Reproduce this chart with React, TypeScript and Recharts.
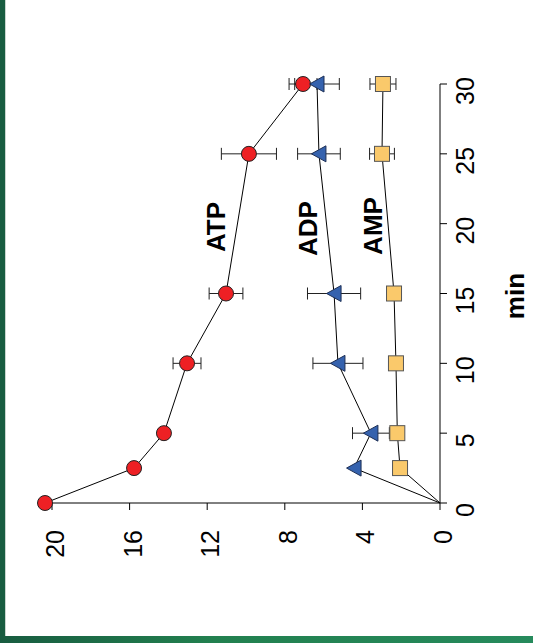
import React from 'react';
import { LineChart, Line, XAxis, YAxis, ErrorBar, ReferenceLine } from 'recharts';

// time (min) and nucleotide levels
const times = [0, 2.5, 5, 10, 15, 25, 30];
const atp = [20.36, 15.77, 14.23, 13.04, 11.03, 9.85, 7.06];
const atpErr = [0, 0, 0, 0.72, 0.87, 1.42, 0.72];
const adp = [0, 4.43, 3.56, 5.26, 5.46, 6.24, 6.34];
const adpErr = [0, 0, 0.95, 1.29, 1.37, 1.1, 1.15];
const amp = [0, 2.06, 2.2, 2.27, 2.37, 2.99, 2.94];
const ampErr = [0, 0, 0, 0, 0, 0.64, 0.67];

const timeTicks = [0, 5, 10, 15, 20, 25, 30];
const valueTicks = [0, 4, 8, 12, 16, 20];

const rows = times.map((t, i) => ({
  t,
  atp: atp[i], atpErr: atpErr[i],
  adp: adp[i], adpErr: adpErr[i],
  amp: amp[i], ampErr: ampErr[i],
}));

const tickFont = "'Liberation Sans Narrow', 'Arial Narrow', 'Liberation Sans', Arial, sans-serif";
const boldFont = "'Liberation Sans', Arial, sans-serif";

const TimeTick = (p: any) => (
  <text x={p.x - 7} y={p.y + 25} textAnchor="middle" fontSize={25} fontFamily={tickFont} fill="#000">
    {p.payload.value}
  </text>
);

const ValueTick = (p: any) => (
  <text x={p.x - 18} y={p.y + 12} textAnchor="end" fontSize={25} fontFamily={tickFont} fill="#000">
    {p.payload.value}
  </text>
);

const Circle = (p: any) => (
  <circle key={`c${p.index}`} cx={p.cx} cy={p.cy} r={7.5} fill="#ee2024" stroke="#222" strokeWidth={1} />
);

const Triangle = (p: any) => {
  if (p.payload.t === 0) return <g key={`t${p.index}`} />;
  const { cx, cy } = p;
  return (
    <polygon key={`t${p.index}`} points={`${cx},${cy - 7.5} ${cx + 8},${cy + 7} ${cx - 8},${cy + 7}`}
      fill="#3562ae" stroke="#1d2f55" strokeWidth={1} />
  );
};

const Square = (p: any) => {
  if (p.payload.t === 0) return <g key={`s${p.index}`} />;
  return (
    <rect key={`s${p.index}`} x={p.cx - 7.5} y={p.cy - 7.5} width={15} height={15}
      fill="#fac96b" stroke="#555" strokeWidth={1} />
  );
};

export default function App() {
  return (
    <div style={{ position: 'absolute', left: 0, top: 0, width: 533, height: 643, background: '#fff', overflow: 'hidden' }}>
      <div style={{ position: 'absolute', left: 0, top: 0, width: 5, height: 643, background: '#185c40', borderRight: '1px solid #c9d6cf' }} />
      <div style={{ position: 'absolute', left: 0, top: 636, width: 533, height: 7, background: 'linear-gradient(90deg, #185c40, #22804f 40%, #268a5c)' }} />
      <div style={{ position: 'absolute', left: 0, top: 0, width: 643, height: 533, transformOrigin: '0 0', transform: 'translateY(643px) rotate(-90deg)' }}>
        <LineChart width={643} height={533} data={rows} margin={{ top: 32.6, right: 84, bottom: 53, left: 0 }}>
          <XAxis dataKey="t" type="number" domain={[0, 30]} ticks={timeTicks} interval={0} height={40}
            tickSize={7} tick={TimeTick} axisLine={{ stroke: '#000' }} tickLine={{ stroke: '#000' }} />
          <YAxis type="number" domain={[0, 21]} ticks={valueTicks} interval={0} width={140}
            tickSize={7} tick={ValueTick} axisLine={false} tickLine={{ stroke: '#000' }} />
          <ReferenceLine segment={[{ x: 0, y: 0 }, { x: 0, y: 20 }]} stroke="#000" strokeWidth={1} />
          <Line dataKey="atp" stroke="#000" strokeWidth={1} dot={Circle} isAnimationActive={false}>
            <ErrorBar dataKey="atpErr" width={6} stroke="#222" strokeWidth={1} direction="y" />
          </Line>
          <Line dataKey="adp" stroke="#000" strokeWidth={1} dot={Triangle} isAnimationActive={false}>
            <ErrorBar dataKey="adpErr" width={6} stroke="#222" strokeWidth={1} direction="y" />
          </Line>
          <Line dataKey="amp" stroke="#000" strokeWidth={1} dot={Square} isAnimationActive={false}>
            <ErrorBar dataKey="ampErr" width={6} stroke="#222" strokeWidth={1} direction="y" />
          </Line>
        </LineChart>
        <svg width={643} height={533} style={{ position: 'absolute', left: 0, top: 0, pointerEvents: 'none' }}>
          <g fontFamily={boldFont} fontWeight="bold" fontSize={26} fill="#000" textAnchor="middle">
            <text x={416} y={225}>ATP</text>
            <text x={414.5} y={317}>ADP</text>
            <text x={417} y={382}>AMP</text>
            <text x={347} y={524}>min</text>
          </g>
        </svg>
      </div>
    </div>
  );
}
